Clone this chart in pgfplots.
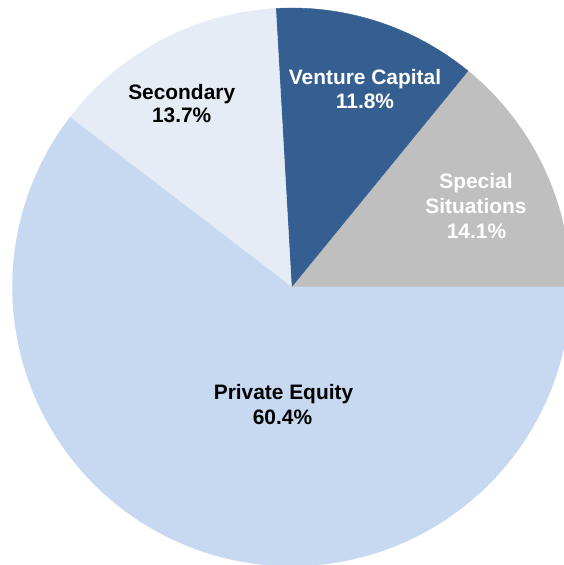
\documentclass[border=0pt]{standalone}
\usepackage{pgfplots}
\pgfplotsset{compat=1.18}
\usepackage{fontspec}
\setmainfont{Liberation Sans}
\definecolor{pe}{HTML}{C6D9F1}
\definecolor{sec}{HTML}{E6ECF5}
\definecolor{vc}{HTML}{355F91}
\definecolor{ss}{HTML}{BFBFBF}
% centre and radius of the pie, in picture units (1 unit = 1bp)
\def\cx{291.5}
\def\cy{278}
\def\rr{279}
\newcommand{\lblfont}{\fontsize{20.9bp}{25bp}\selectfont\bfseries}
\newcommand{\slice}[3]{% #1 cumulative start (%), #2 share (%), #3 colour
  \pgfmathsetmacro\sa{3.6*#1}%
  \pgfmathsetmacro\sb{3.6*(#1+#2)}%
  \edef\tmp{\noexpand\addplot[fill=#3, draw=#3, line width=0.4pt, domain=\sa:\sb, samples=200]
    ({\cx+\rr*cos(x)},{\cy+\rr*sin(x)}) -- (axis cs:\cx,\cy) -- cycle;}%
  \tmp
}
\begin{document}
\begin{tikzpicture}
\begin{axis}[
  at={(0,0)}, anchor=south west,
  scale only axis, width=564bp, height=565bp,
  xmin=0, xmax=564, ymin=0, ymax=565,
  hide axis, clip=true,
]
\slice{0}{14.1}{ss}
\slice{14.1}{11.8}{vc}
\slice{25.9}{13.7}{sec}
\slice{39.6}{60.4}{pe}
% labels (y = 565 - image row)
\node[anchor=base, text=black, font=\lblfont] at (axis cs:181.7,465.8) {Secondary};
\node[anchor=base, text=black, font=\lblfont] at (axis cs:181.7,442.3) {13.7\%};
\node[anchor=base, text=white, font=\lblfont] at (axis cs:365,480) {Venture Capital};
\node[anchor=base, text=white, font=\lblfont] at (axis cs:365,456) {11.8\%};
\node[anchor=base, text=white, font=\lblfont] at (axis cs:476,376) {Special};
\node[anchor=base, text=white, font=\lblfont] at (axis cs:476,351) {Situations};
\node[anchor=base, text=white, font=\lblfont] at (axis cs:476.5,326.7) {14.1\%};
\node[anchor=base, text=black, font=\lblfont] at (axis cs:283.5,165.7) {Private Equity};
\node[anchor=base, text=black, font=\lblfont] at (axis cs:282.5,140.7) {60.4\%};
\end{axis}
\pgfresetboundingbox
\useasboundingbox (0,0) rectangle (564bp,565bp);
\end{tikzpicture}
\end{document}
